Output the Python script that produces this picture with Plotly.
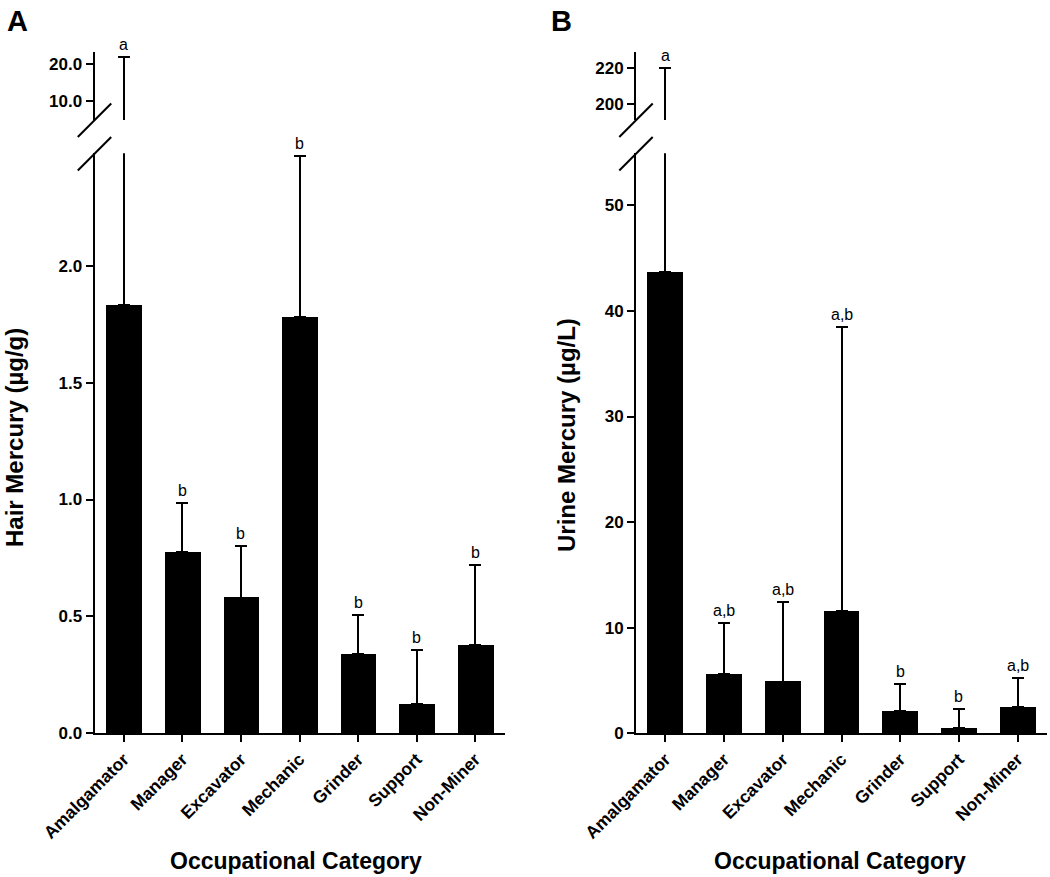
import plotly.graph_objects as go

categories = ["Amalgamator", "Manager", "Excavator", "Mechanic", "Grinder", "Support", "Non-Miner"]
hair_mean = [1.83, 0.775, 0.58, 1.78, 0.34, 0.125, 0.378]
hair_err_top = [21.9, 0.985, 0.80, 2.468, 0.505, 0.358, 0.72]
hair_letters = ["a", "b", "b", "b", "b", "b", "b"]

urine_mean = [43.7, 5.6, 4.9, 11.6, 2.1, 0.5, 2.45]
urine_err_top = [220.0, 10.4, 12.4, 38.5, 4.7, 2.3, 5.25]
urine_letters = ["a", "a,b", "a,b", "a,b", "b", "b", "a,b"]

hair_low_ticks = [0.0, 0.5, 1.0, 1.5, 2.0]
hair_up_ticks = [10.0, 20.0]
urine_low_ticks = [0, 10, 20, 30, 40, 50]
urine_up_ticks = [200, 220]

W, H = 1050, 877
FONT = "Liberation Sans, Arial, sans-serif"


def px_x(p):
    return p / W


def px_y(p):
    return (H - p) / H


low_dom = [px_y(733.3), px_y(153.3)]
up_dom = [px_y(120), px_y(52)]
xa_dom = [px_x(94.5), px_x(504.5)]
xb_dom = [px_x(636), px_x(1047)]

fig = go.Figure()


def add_bars(xaxis, yaxis, means, tops):
    fig.add_trace(go.Bar(
        x=categories, y=means, xaxis=xaxis, yaxis=yaxis,
        width=0.61, marker=dict(color="black", line=dict(width=0)),
        error_y=dict(type="data", symmetric=False,
                     array=[t - m for t, m in zip(tops, means)],
                     arrayminus=[0] * len(means),
                     color="black", thickness=2, width=6),
        showlegend=False, hoverinfo="skip"))


add_bars("x", "y", hair_mean, hair_err_top)
add_bars("x", "y2", hair_mean, hair_err_top)
add_bars("x2", "y3", urine_mean, urine_err_top)
add_bars("x2", "y4", urine_mean, urine_err_top)

tickfont = dict(family=FONT, size=17, color="black", weight="bold")
xtickfont = dict(family=FONT, size=17.5, color="black", weight="bold")
common_y = dict(showline=True, linecolor="black", linewidth=2, ticks="outside",
                ticklen=7, tickwidth=2, tickcolor="black", showgrid=False,
                zeroline=False, tickfont=tickfont, automargin=False)
common_x = dict(showline=True, linecolor="black", linewidth=2, ticks="outside",
                ticklen=7, tickwidth=2, tickcolor="black", showgrid=False,
                tickangle=-45, tickfont=xtickfont, range=[-0.5, 6.5],
                type="category", automargin=False)

fig.update_layout(
    width=W, height=H, margin=dict(l=0, r=0, t=0, b=0, autoexpand=False),
    paper_bgcolor="white", plot_bgcolor="white", bargap=0,
    xaxis=dict(domain=xa_dom, anchor="y", **common_x),
    xaxis2=dict(domain=xb_dom, anchor="y3", **common_x),
    yaxis=dict(domain=low_dom, anchor="x", range=[0, 2.481],
               tickvals=hair_low_ticks, tickformat=".1f", **common_y),
    yaxis2=dict(domain=up_dom, anchor="x", range=[4.82, 23.35],
                tickvals=hair_up_ticks, tickformat=".1f", **common_y),
    yaxis3=dict(domain=low_dom, anchor="x2", range=[0, 54.93],
                tickvals=urine_low_ticks, **common_y),
    yaxis4=dict(domain=up_dom, anchor="x2", range=[191.04, 229.13],
                tickvals=urine_up_ticks, **common_y),
)

# significance letters
for i, c in enumerate(categories):
    yref_h = "y2" if hair_err_top[i] > 2.481 else "y"
    fig.add_annotation(x=c, y=hair_err_top[i], xref="x", yref=yref_h,
                       text=hair_letters[i], showarrow=False, yanchor="bottom",
                       yshift=2, font=dict(family=FONT, size=16, color="black"))
    yref_u = "y4" if urine_err_top[i] > 54.93 else "y3"
    fig.add_annotation(x=c, y=urine_err_top[i], xref="x2", yref=yref_u,
                       text=urine_letters[i], showarrow=False, yanchor="bottom",
                       yshift=2, font=dict(family=FONT, size=16, color="black"))

# axis titles and panel letters
title_font = dict(family=FONT, size=24, color="black", weight="bold")
fig.add_annotation(x=px_x(14), y=px_y(438), xref="paper", yref="paper",
                   text="Hair Mercury (µg/g)", textangle=-90, showarrow=False,
                   font=title_font, xanchor="center", yanchor="middle")
fig.add_annotation(x=px_x(566), y=px_y(435), xref="paper", yref="paper",
                   text="Urine Mercury (µg/L)", textangle=-90, showarrow=False,
                   font=title_font, xanchor="center", yanchor="middle")
xt_font = dict(family=FONT, size=23, color="black", weight="bold")
fig.add_annotation(x=px_x(296), y=px_y(861), xref="paper", yref="paper",
                   text="Occupational Category", showarrow=False, font=xt_font,
                   xanchor="center", yanchor="middle")
fig.add_annotation(x=px_x(840), y=px_y(861), xref="paper", yref="paper",
                   text="Occupational Category", showarrow=False, font=xt_font,
                   xanchor="center", yanchor="middle")
letter_font = dict(family=FONT, size=29, color="black", weight="bold")
fig.add_annotation(x=px_x(17), y=px_y(21), xref="paper", yref="paper", text="A",
                   showarrow=False, font=letter_font, xanchor="center", yanchor="middle")
fig.add_annotation(x=px_x(561), y=px_y(21), xref="paper", yref="paper", text="B",
                   showarrow=False, font=letter_font, xanchor="center", yanchor="middle")

# axis break slashes
for ax_px in (94.5, 636):
    for (y0, y1) in ((137, 103.5), (170.5, 137)):
        fig.add_shape(type="line", xref="paper", yref="paper",
                      x0=px_x(ax_px - 16.7), x1=px_x(ax_px + 16.7),
                      y0=px_y(y0), y1=px_y(y1),
                      line=dict(color="black", width=2))

fig.write_html("out.html", config={"displayModeBar": False},
               post_script="document.body.style.margin='0px';document.body.style.padding='0px';")
